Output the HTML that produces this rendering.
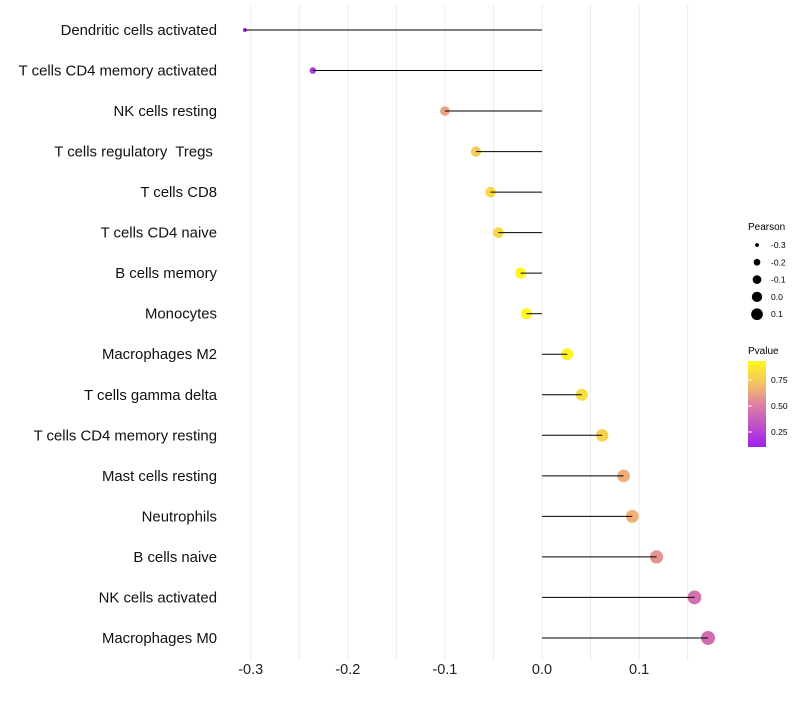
<!DOCTYPE html>
<html><head><meta charset="utf-8"><style>
body{margin:0;background:#fff;font-family:"Liberation Sans",sans-serif}
svg text{font-family:"Liberation Sans",sans-serif;white-space:pre}
</style></head><body>
<svg id="c" width="800" height="700">
<defs><linearGradient id="pg" x1="0" y1="1" x2="0" y2="0">
<stop offset="0" stop-color="#a020f0"/><stop offset="0.5" stop-color="#dc82a0"/><stop offset="0.7" stop-color="#f2b96e"/><stop offset="1" stop-color="#fff81a"/>
</linearGradient></defs>
<g id="grid"></g><g id="dots"></g><g id="marks"></g><g id="labels"></g>
<g>
<text x="748" y="230" font-size="10">Pearson</text>
<g id="sleg"></g>
<text x="748" y="354" font-size="10">Pvalue</text>
<rect x="748" y="361" width="18" height="86" fill="url(#pg)"/>
<g id="cleg"></g>
</g>
</svg>
<script>
const categories=["Dendritic cells activated","T cells CD4 memory activated","NK cells resting","T cells regulatory  Tregs ","T cells CD8","T cells CD4 naive","B cells memory","Monocytes","Macrophages M2","T cells gamma delta","T cells CD4 memory resting","Mast cells resting","Neutrophils","B cells naive","NK cells activated","Macrophages M0"];
const pearson=[-0.306,-0.236,-0.100,-0.068,-0.053,-0.045,-0.022,-0.016,0.026,0.041,0.062,0.084,0.093,0.118,0.157,0.171];
const pvalue=[0.106,0.20,0.62,0.75,0.80,0.81,0.92,0.93,0.91,0.82,0.78,0.65,0.66,0.57,0.45,0.43];
const xTicks=[-0.3,-0.2,-0.1,0.0,0.1];
const sizeLegend=[-0.3,-0.2,-0.1,0.0,0.1];
const colorTicks=[0.25,0.50,0.75];
const NS="http://www.w3.org/2000/svg";
const X=v=>542+v*971;
const Y=i=>30+i*40.53;
const R=v=>Math.sqrt(4+(v+0.306)*94);
const pMin=0.106,pMax=0.93;
function col(p){let t=Math.max(0,Math.min(1,(p-pMin)/(pMax-pMin)));
const s=[[0,160,32,240],[0.5,220,130,160],[0.7,242,185,110],[1,255,248,26]];
let k=0;while(k<s.length-2&&t>s[k+1][0])k++;
const a=s[k],b=s[k+1],u=(t-a[0])/(b[0]-a[0]);
return `rgb(${[1,2,3].map(j=>Math.round(a[j]+(b[j]-a[j])*u)).join(',')})`;}
function mk(tag,at,par){const e=document.createElementNS(NS,tag);for(const k in at)e.setAttribute(k,at[k]);document.getElementById(par).appendChild(e);return e;}
for(let v=-0.3;v<=0.151;v+=0.05){const g=mk('line',{x1:X(v),x2:X(v),y1:5,y2:660,stroke:'#ececec','stroke-width':1},'grid');

}
xTicks.forEach(v=>{const t=mk('text',{x:X(v),y:674,'font-size':14.5,'text-anchor':'middle',fill:'#222'},'labels');t.textContent=v.toFixed(1);

});
categories.forEach((c,i)=>{
const t=mk('text',{x:217,y:Y(i)+5,'font-size':14.9,'text-anchor':'end',fill:'#111'},'labels');t.textContent=c;


const d=mk('circle',{cx:X(pearson[i]),cy:Y(i),r:R(pearson[i]),fill:col(pvalue[i])},'dots');


const l=mk('line',{x1:X(0),x2:X(pearson[i]),y1:Y(i),y2:Y(i),stroke:'#000','stroke-width':1},'marks');


});
sizeLegend.forEach((v,i)=>{const y=245+i*17.3;
const d=mk('circle',{cx:757,cy:y,r:R(v)*0.9,fill:'#000'},'sleg');


const t=mk('text',{x:771,y:y+3,'font-size':8.5},'sleg');t.textContent=v.toFixed(1);

});
colorTicks.forEach(p=>{const y=432-(p-0.25)*104;
const l=mk('line',{x1:748,x2:752,y1:y,y2:y,stroke:'#fff'},'cleg');


const t=mk('text',{x:771,y:y+3,'font-size':8.5},'cleg');t.textContent=p.toFixed(2);

});
</script>
</body></html>
